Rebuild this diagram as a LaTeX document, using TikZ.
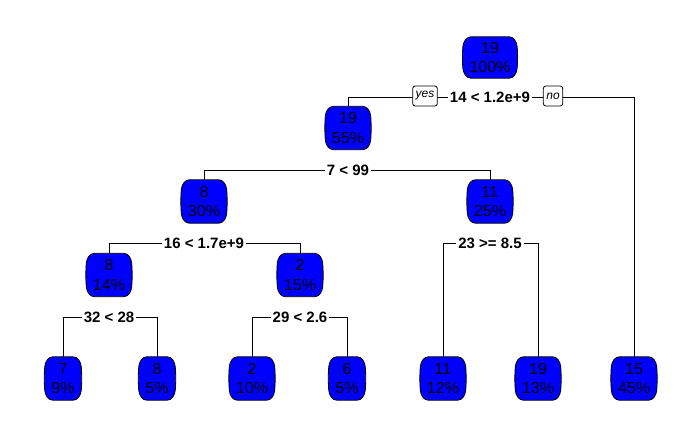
\documentclass[tikz,border=0pt]{standalone}
\usepackage{fontspec}
\setmainfont{Liberation Sans}
\usetikzlibrary{calc,backgrounds}
\definecolor{nodeblue}{RGB}{0,0,255}
\begin{document}
\begin{tikzpicture}[x=1pt,y=-1pt,
  tn/.style={font=\fontsize{16}{19.5}\selectfont, align=center, inner xsep=5.5pt, inner ysep=0pt, minimum height=43pt, text=black},
  sp/.style={font=\fontsize{15}{18}\bfseries\selectfont, fill=white, inner xsep=2pt, inner ysep=1pt},
  yn/.style={font=\fontsize{12}{14}\itshape\selectfont, draw=black, fill=white, rounded corners=2.5pt, inner xsep=3pt, inner ysep=0pt, minimum height=20pt, line width=0.8pt},
  br/.style={draw=black, line width=0.8pt},
  barrel/.style={draw=black, fill=nodeblue, line width=0.8pt}]
\useasboundingbox (0,0) rectangle (700,432);

% tree nodes: predicted value and share of observations
\node[tn, minimum height=41pt] (n1) at (490,57.5) {19\\100\%};
\node[tn] (n2)  at (348,128)   {19\\55\%};
\node[tn] (n3)  at (634,378.5) {15\\45\%};
\node[tn] (n4)  at (204,201.5) {8\\30\%};
\node[tn] (n5)  at (490,201.5) {11\\25\%};
\node[tn] (n8)  at (109,275)   {8\\14\%};
\node[tn] (n9)  at (300,275)   {2\\15\%};
\node[tn] (n10) at (443,378.5) {11\\12\%};
\node[tn] (n11) at (538,378.5) {19\\13\%};
\node[tn] (n16) at (63,378.5)  {7\\9\%};
\node[tn] (n17) at (157,378.5) {8\\5\%};
\node[tn] (n18) at (252,378.5) {2\\10\%};
\node[tn] (n19) at (347,378.5) {6\\5\%};

% split labels
\node[sp] (s1) at (490,97)  {14 < 1.2e+9};
\node[sp] (s2) at (348,170) {7 < 99};
\node[sp] (s4) at (204,243) {16 < 1.7e+9};
\node[sp] (s5) at (490,243) {23 >= 8.5};
\node[sp] (s8) at (109,317) {32 < 28};
\node[sp] (s9) at (300,317) {29 < 2.6};

\node[yn] (yes) at (425,96) {yes};
\node[yn] (no)  at (553,96) {no};

\begin{scope}[on background layer]
  % branches
  \foreach \s/\l/\r in {s1/n2/n3, s2/n4/n5, s4/n8/n9, s5/n10/n11, s8/n16/n17, s9/n18/n19}
    \draw[br] (\l.north) -- (\l.north |- \s) -- (\r.north |- \s) -- (\r.north);
  % rounded barrel-shaped boxes behind the node texts
  \foreach \nd in {n1,n2,n3,n4,n5,n8,n9,n10,n11,n16,n17,n18,n19}
    \draw[barrel] let \p1=(\nd.north west), \p2=(\nd.south east) in
      (\x1+7pt,\y1) -- (\x2-7pt,\y1)
      .. controls (\x2-2.5pt,\y1) and (\x2+0.6pt,\y1-5pt) .. (\x2+1pt,\y1-10pt)
      .. controls (\x2+1.6pt,\y1-17pt) and (\x2+1.6pt,\y2+17pt) .. (\x2+1pt,\y2+10pt)
      .. controls (\x2+0.6pt,\y2+5pt) and (\x2-2.5pt,\y2) .. (\x2-7pt,\y2)
      -- (\x1+7pt,\y2)
      .. controls (\x1+2.5pt,\y2) and (\x1-0.6pt,\y2+5pt) .. (\x1-1pt,\y2+10pt)
      .. controls (\x1-1.6pt,\y2+17pt) and (\x1-1.6pt,\y1-17pt) .. (\x1-1pt,\y1-10pt)
      .. controls (\x1-0.6pt,\y1-5pt) and (\x1+2.5pt,\y1) .. cycle;
\end{scope}
\end{tikzpicture}
\end{document}
